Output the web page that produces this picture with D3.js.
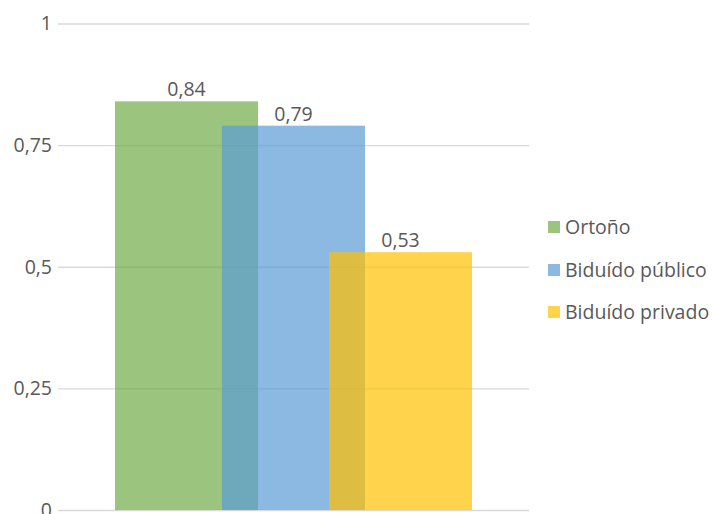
<!DOCTYPE html>
<html>
<head>
<meta charset="utf-8">
<script src="https://cdn.jsdelivr.net/npm/d3@7"></script>
<style>
  html, body { margin: 0; padding: 0; background: #fff; }
  svg text { font-family: "Open Sans", "Noto Sans", sans-serif; fill: #595959; }
</style>
</head>
<body>
<svg id="chart" width="712" height="514"></svg>
<script>
// Series and their values
const seriesNames = ["Ortoño", "Biduído público", "Biduído privado"];
const seriesValues = [0.84, 0.79, 0.53];
const seriesColors = ["#70AD47", "#5B9BD5", "#FFC000"];
const tickValues = [0, 0.25, 0.5, 0.75, 1];
const tickLabels = ["0", "0,25", "0,5", "0,75", "1"];

const fontSize = 19.5;
const svg = d3.select("#chart");
const plot = { left: 58, right: 529, top: 23.5, bottom: 510 };

const y = d3.scaleLinear().domain([0, 1]).range([plot.bottom, plot.top]);

// Bars overlap: each is offset from the previous by 75% of its width
const barWidth = 143;
const barStep = 107;
const x = d3.scaleLinear().domain([0, 1]).range([115, 115 + barStep]);

// Gridlines and tick labels
const yAxis = d3.axisLeft(y)
  .tickValues(tickValues)
  .tickFormat((d, i) => tickLabels[i])
  .tickSize(-(plot.right - plot.left))
  .tickPadding(6);

const axisG = svg.append("g")
  .attr("transform", `translate(${plot.left},0)`)
  .call(yAxis);
axisG.select(".domain").remove();
axisG.selectAll(".tick line").attr("stroke", "#d9d9d9").attr("stroke-width", 1.3);
axisG.selectAll(".tick text")
  .attr("font-size", fontSize)
  .attr("fill", "#595959")
  .style("font-family", '"Open Sans", "Noto Sans", sans-serif');

// Bars
svg.append("g").selectAll("rect")
  .data(seriesValues)
  .join("rect")
  .attr("x", (d, i) => x(i))
  .attr("y", d => y(d))
  .attr("width", barWidth)
  .attr("height", d => y(0) - y(d))
  .attr("fill", (d, i) => seriesColors[i])
  .attr("fill-opacity", 0.7);

// Value labels
svg.append("g").selectAll("text")
  .data(seriesValues)
  .join("text")
  .attr("x", (d, i) => x(i) + barWidth / 2)
  .attr("y", d => y(d) - 5)
  .attr("text-anchor", "middle")
  .attr("font-size", fontSize)
  .text(d => d3.format(".2f")(d).replace(".", ","));

// Legend
const legend = svg.append("g").attr("transform", "translate(548,0)");
const legendY = [227, 270, 312];
seriesNames.forEach((name, i) => {
  const g = legend.append("g").attr("transform", `translate(0,${legendY[i]})`);
  g.append("rect")
    .attr("x", 0).attr("y", -6)
    .attr("width", 12).attr("height", 12)
    .attr("fill", seriesColors[i]).attr("fill-opacity", 0.7);
  g.append("text")
    .attr("x", 17).attr("y", 0)
    .attr("dy", "0.35em")
    .attr("font-size", fontSize)
    .text(name);
});
</script>
</body>
</html>
